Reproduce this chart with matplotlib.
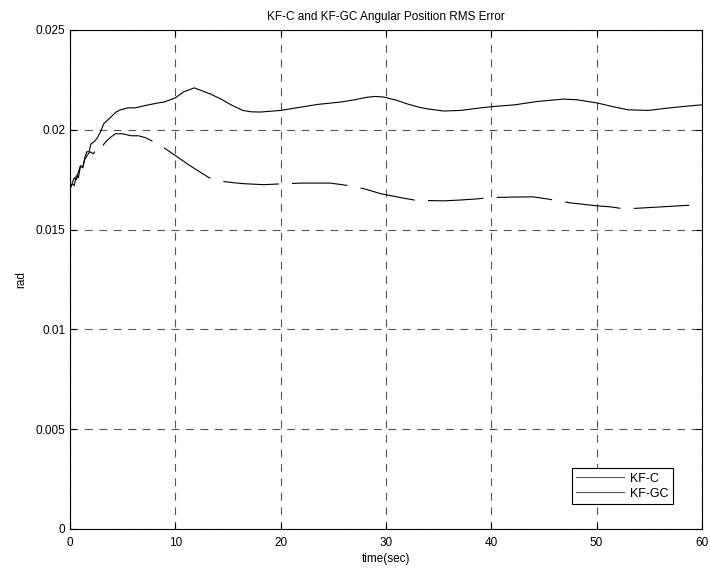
import matplotlib
matplotlib.use("Agg")
import matplotlib.pyplot as plt

plt.rcParams['font.family'] = ['Liberation Sans', 'DejaVu Sans']

# KF-C rms error (solid line)
t_c = [0, 0.2, 0.4, 0.6, 0.8, 1.0, 1.2, 1.4, 1.6, 1.8, 2.0, 2.3, 2.6, 2.9, 3.2,
       3.6, 4.0, 4.4, 4.8, 5.5, 6.2, 7.0, 8.3, 9.0, 10.0, 10.8, 11.8, 12.4, 13.3,
       14.3, 15.3, 16.4, 17.2, 18.1, 20.0, 21.5, 23.5, 25.7, 27.0, 28.2, 29.0,
       29.8, 31.0, 32.0, 33.0, 33.9, 35.5, 37.1, 39.0, 40.3, 42.2, 44.4, 46.9,
       48.2, 50.1, 51.7, 53.0, 54.9, 56.8, 58.5, 60.0]
rms_c = [0.0170, 0.0173, 0.0172, 0.0177, 0.0176, 0.0182, 0.0181, 0.0186, 0.0189,
         0.0189, 0.0193, 0.0194, 0.0196, 0.0199, 0.0203, 0.0205, 0.0207, 0.0209,
         0.0210, 0.0211, 0.0211, 0.0212, 0.02134, 0.0214, 0.0216, 0.0219, 0.0221,
         0.02198, 0.0218, 0.02155, 0.02125, 0.02097, 0.0209, 0.02089, 0.02097,
         0.0211, 0.02127, 0.02139, 0.0215, 0.02163, 0.02167, 0.02164, 0.02148,
         0.0213, 0.02115, 0.02105, 0.02094, 0.02097, 0.0211, 0.02117, 0.02125,
         0.02142, 0.02154, 0.0215, 0.02134, 0.02114, 0.021, 0.02097, 0.02109,
         0.02118, 0.02125]

# KF-GC rms error (dashed line)
t_gc = [0, 0.2, 0.4, 0.6, 0.8, 1.0, 1.2, 1.4, 1.6, 1.9, 2.2, 2.5, 2.8, 3.1, 3.4,
        3.8, 4.3, 5.0, 5.8, 6.5, 7.2, 8.3, 9.2, 10.0, 11.4, 12.3, 13.2, 14.4,
        15.5, 16.5, 18.4, 20.0, 22.0, 24.7, 26.5, 27.9, 29.5, 31.4, 32.8, 34.5,
        35.5, 37.0, 38.7, 39.8, 42.0, 44.0, 45.5, 47.5, 50.0, 51.3, 52.6, 53.9,
        56.2, 57.8, 60.0]
rms_gc = [0.0171, 0.0173, 0.0176, 0.0175, 0.0179, 0.0182, 0.0181, 0.0185, 0.0187,
          0.0189, 0.0188, 0.0190, 0.0189, 0.0192, 0.0194, 0.0196, 0.0198, 0.0198,
          0.0197, 0.0197, 0.0196, 0.0193, 0.0190, 0.01871, 0.0182, 0.0179, 0.0176,
          0.01742, 0.01735, 0.0173, 0.01725, 0.01729, 0.01733, 0.01733, 0.0172,
          0.01705, 0.0168, 0.0166, 0.01647, 0.01645, 0.01644, 0.01648, 0.01654,
          0.0166, 0.01663, 0.01664, 0.01652, 0.01634, 0.01619, 0.01614, 0.01604,
          0.01607, 0.01614, 0.01619, 0.01625]

x_ticks = [0, 10, 20, 30, 40, 50, 60]
y_ticks = [0, 0.005, 0.01, 0.015, 0.02, 0.025]
y_labels = ["0", "0.005", "0.01", "0.015", "0.02", "0.025"]

fig = plt.figure(figsize=(7.1, 5.69), dpi=100)
ax = fig.add_axes([0.0986, 0.0703, 0.890, 0.877])

ax.plot(t_c, rms_c, color="black", lw=0.8, label="KF-C")
line_gc, = ax.plot(t_gc, rms_gc, color="black", lw=0.8, label="KF-GC")
line_gc.set_dashes([50, 12])

ax.set_xlim(0, 60)
ax.set_ylim(0, 0.025)
ax.set_xticks(x_ticks)
ax.set_yticks(y_ticks)
ax.set_yticklabels(y_labels)
ax.tick_params(direction="in", top=True, right=True, labelsize=8.5, length=4)
ax.tick_params(axis="x", pad=6)
ax.grid(True, color="#555555", linestyle=(0, (7, 6)), lw=0.8)

for s in ax.spines.values():
    s.set_linewidth(0.8)

ax.set_title("KF-C and KF-GC Angular Position RMS Error", fontsize=8.5, pad=7)
ax.set_xlabel("time(sec)", fontsize=8.5, labelpad=3)
ax.set_ylabel("rad", fontsize=8.5, labelpad=6)

leg = ax.legend(loc="lower right", bbox_to_anchor=(0.954, 0.05), borderaxespad=0,
                fontsize=9, fancybox=False, edgecolor="black", framealpha=1,
                handlelength=3.8, handletextpad=0.5, borderpad=0.35,
                labelspacing=0.25)
leg.get_frame().set_linewidth(0.8)
for h in leg.get_lines():
    h.set_linestyle("-")
    h.set_color("#555555")

fig.savefig("out.png", dpi=100)
